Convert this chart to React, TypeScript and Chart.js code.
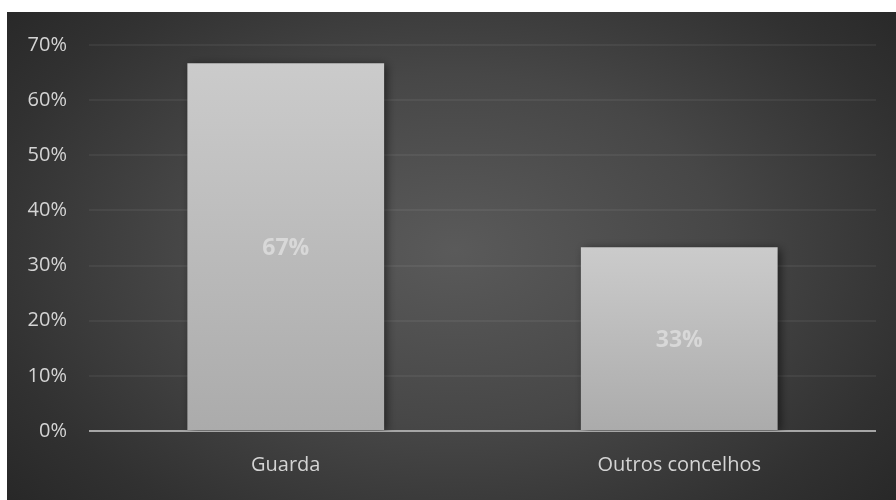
import React, { useEffect, useRef } from "react";
import { Chart, registerables } from "chart.js";

Chart.register(...registerables);

const categories = ["Guarda", "Outros concelhos"];
const shares = [66.67, 33.33];
const dataLabels = ["67%", "33%"];
const yTicksMax = 70;
const yTickStep = 10;

const FONT = "'Open Sans', 'DejaVu Sans', sans-serif";

const bgPlugin = {
  id: "bgPlugin",
  beforeDraw(chart: any) {
    const ctx = chart.ctx;
    const w = chart.width;
    const h = chart.height;
    ctx.save();
    ctx.fillStyle = "#ffffff";
    ctx.fillRect(0, 0, w, h);
    const cx = 455;
    const cy = 250;
    const sx = 1.15;
    const sy = 0.75;
    ctx.translate(cx, cy);
    ctx.scale(sx, sy);
    const g = ctx.createRadialGradient(0, 0, 0, 0, 0, 520);
    g.addColorStop(0, "#5a5a5a");
    g.addColorStop(0.45, "#474747");
    g.addColorStop(0.8, "#313131");
    g.addColorStop(1, "#272727");
    ctx.fillStyle = g;
    const x0 = (7 - cx) / sx;
    const y0 = (12 - cy) / sy;
    const x1 = (w - cx) / sx;
    const y1 = (h - cy) / sy;
    ctx.fillRect(x0, y0, x1 - x0, y1 - y0);
    ctx.restore();
  },
};

const barFx = {
  id: "barFx",
  beforeDatasetsDraw(chart: any) {
    const ctx = chart.ctx;
    ctx.save();
    ctx.shadowColor = "rgba(0,0,0,0.55)";
    ctx.shadowBlur = 9;
    ctx.shadowOffsetX = 3;
    ctx.shadowOffsetY = 2;
  },
  afterDatasetsDraw(chart: any) {
    const ctx = chart.ctx;
    ctx.restore();
    const meta = chart.getDatasetMeta(0);
    ctx.save();
    ctx.font = `bold 23px ${FONT}`;
    ctx.fillStyle = "#d8d8d8";
    ctx.textAlign = "center";
    ctx.textBaseline = "middle";
    meta.data.forEach((el: any, i: number) => {
      const y = (el.y + el.base) / 2 + 2;
      ctx.fillText(dataLabels[i], el.x, y);
    });
    ctx.restore();
  },
};

export default function App() {
  const ref = useRef<HTMLCanvasElement | null>(null);

  useEffect(() => {
    if (!ref.current) return;
    const chart = new Chart(ref.current, {
      type: "bar",
      data: {
        labels: categories,
        datasets: [
          {
            data: shares,
            backgroundColor: (c: any) => {
              const ch = c.chart;
              const ys = ch.scales && ch.scales.y;
              if (!ys || !ch.chartArea || c.raw === undefined) return "#bdbdbd";
              const top = ys.getPixelForValue(c.raw);
              const bot = ys.getPixelForValue(0);
              if (!isFinite(top) || !isFinite(bot) || top === bot) return "#bdbdbd";
              const g = ch.ctx.createLinearGradient(0, top, 0, bot);
              g.addColorStop(0, "#cbcbcb");
              g.addColorStop(1, "#ababab");
              return g;
            },
            borderWidth: 0,
            barPercentage: 0.5,
            categoryPercentage: 1,
          },
        ],
      },
      options: {
        responsive: false,
        animation: false,
        layout: { padding: { left: 7, right: 20, top: 45, bottom: 0 } },
        plugins: { legend: { display: false }, tooltip: { enabled: false } },
        scales: {
          x: {
            grid: { display: false },
            border: { display: false },
            ticks: { color: "#d4d4d4", font: { family: FONT, size: 20 }, padding: 14 },
            afterFit: (s: any) => {
              s.height = 69;
            },
          },
          y: {
            min: 0,
            max: yTicksMax,
            border: { display: false },
            grid: {
              drawTicks: false,
              color: (c: any) => (c.tick && c.tick.value === 0 ? "#a6a6a6" : "rgba(255,255,255,0.055)"),
              lineWidth: 2,
            },
            ticks: {
              stepSize: yTickStep,
              color: "#d4d4d4",
              font: { family: FONT, size: 20 },
              padding: 22,
              callback: (v: any) => `${v}%`,
            },
            afterFit: (s: any) => {
              s.width = 82;
            },
          },
        },
      },
      plugins: [bgPlugin, barFx],
    });
    return () => chart.destroy();
  }, []);

  return (
    <div style={{ position: "fixed", left: 0, top: 0, width: 896, height: 500 }}>
      <canvas ref={ref} width={896} height={500} />
    </div>
  );
}
